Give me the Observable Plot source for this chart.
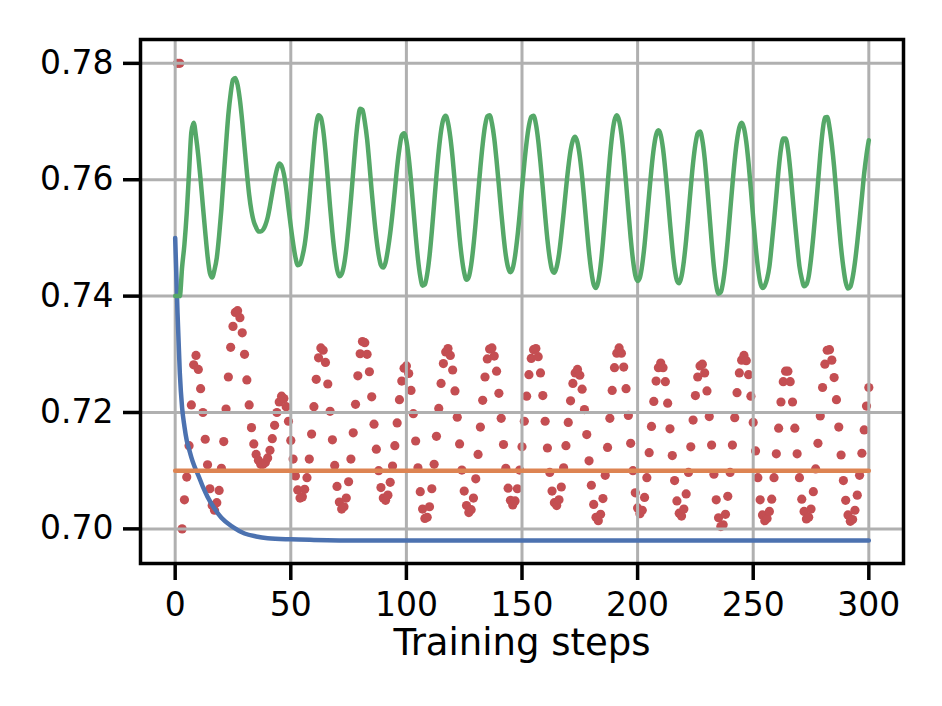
<!DOCTYPE html>
<html>
<head>
<meta charset="utf-8">
<script src="https://cdn.jsdelivr.net/npm/d3@7"></script>
<script src="https://cdn.jsdelivr.net/npm/@observablehq/plot@0.6"></script>
<style>
  html, body { margin: 0; padding: 0; background: #ffffff; }
  #chart svg { display: block; }
</style>
</head>
<body>
<div id="chart"></div>
<script>
// ---- tick labels / text ----
const xTicks = [0, 50, 100, 150, 200, 250, 300];
const yTicks = [0.70, 0.72, 0.74, 0.76, 0.78];
const xLabel = "Training steps";

// ---- red scatter: one value per training step, steps 1..300 ----
const redValues = [
  0.7800,0.7800,0.7000,0.7050,0.7089,0.7143,0.7213,0.7282,0.7298,0.7274,
  0.7241,0.7200,0.7154,0.7110,0.7069,0.7040,0.7032,0.7045,0.7066,0.7104,
  0.7150,0.7206,0.7261,0.7312,0.7348,0.7372,0.7375,0.7363,0.7337,0.7300,
  0.7256,0.7213,0.7174,0.7146,0.7128,0.7118,0.7111,0.7111,0.7114,0.7122,
  0.7135,0.7155,0.7178,0.7200,0.7218,0.7228,0.7224,0.7210,0.7185,0.7152,
  0.7120,0.7091,0.7067,0.7053,0.7055,0.7068,0.7088,0.7120,0.7163,0.7210,
  0.7257,0.7294,0.7311,0.7307,0.7286,0.7249,0.7202,0.7153,0.7109,0.7073,
  0.7046,0.7034,0.7038,0.7053,0.7081,0.7120,0.7165,0.7214,0.7263,0.7301,
  0.7322,0.7320,0.7300,0.7270,0.7227,0.7180,0.7137,0.7100,0.7071,0.7053,
  0.7049,0.7058,0.7080,0.7108,0.7143,0.7182,0.7222,0.7254,0.7276,0.7280,
  0.7267,0.7238,0.7198,0.7151,0.7105,0.7064,0.7034,0.7018,0.7020,0.7038,
  0.7069,0.7111,0.7159,0.7207,0.7250,0.7284,0.7304,0.7310,0.7298,0.7273,
  0.7237,0.7192,0.7146,0.7101,0.7065,0.7040,0.7028,0.7033,0.7053,0.7086,
  0.7128,0.7175,0.7221,0.7261,0.7292,0.7309,0.7311,0.7297,0.7271,0.7233,
  0.7190,0.7145,0.7104,0.7070,0.7049,0.7041,0.7048,0.7069,0.7101,0.7141,
  0.7185,0.7228,0.7265,0.7293,0.7308,0.7310,0.7296,0.7268,0.7229,0.7185,
  0.7139,0.7097,0.7065,0.7045,0.7040,0.7050,0.7072,0.7105,0.7143,0.7183,
  0.7220,0.7250,0.7268,0.7274,0.7264,0.7240,0.7205,0.7162,0.7117,0.7075,
  0.7042,0.7020,0.7014,0.7025,0.7052,0.7092,0.7140,0.7190,0.7238,0.7277,
  0.7302,0.7311,0.7302,0.7278,0.7241,0.7195,0.7147,0.7100,0.7062,0.7036,
  0.7026,0.7032,0.7054,0.7088,0.7131,0.7176,0.7219,0.7254,0.7277,0.7285,
  0.7277,0.7253,0.7216,0.7172,0.7126,0.7083,0.7048,0.7027,0.7022,0.7034,
  0.7060,0.7097,0.7141,0.7187,0.7229,0.7261,0.7280,0.7283,0.7268,0.7237,
  0.7193,0.7144,0.7094,0.7050,0.7019,0.7004,0.7007,0.7025,0.7056,0.7097,
  0.7144,0.7191,0.7234,0.7268,0.7290,0.7298,0.7289,0.7265,0.7228,0.7183,
  0.7134,0.7088,0.7050,0.7024,0.7014,0.7018,0.7030,0.7051,0.7088,0.7129,
  0.7173,0.7218,0.7253,0.7271,0.7271,0.7253,0.7218,0.7173,0.7129,0.7088,
  0.7051,0.7030,0.7017,0.7020,0.7034,0.7064,0.7103,0.7147,0.7194,0.7243,
  0.7283,0.7307,0.7308,0.7290,0.7260,0.7222,0.7175,0.7127,0.7083,0.7049,
  0.7024,0.7013,0.7016,0.7032,0.7058,0.7092,0.7130,0.7170,0.7211,0.7243
];

// ---- green line: one value per training step, steps 0..300 ----
const greenValues = [
  0.7400,0.7400,0.7400,0.7450,0.7489,0.7543,0.7613,0.7682,0.7698,0.7674,
  0.7641,0.7600,0.7554,0.7510,0.7469,0.7440,0.7432,0.7445,0.7466,0.7504,
  0.7550,0.7606,0.7661,0.7712,0.7748,0.7772,0.7775,0.7763,0.7737,0.7700,
  0.7656,0.7613,0.7574,0.7546,0.7528,0.7518,0.7511,0.7511,0.7514,0.7522,
  0.7535,0.7555,0.7578,0.7600,0.7618,0.7628,0.7624,0.7610,0.7585,0.7552,
  0.7520,0.7491,0.7467,0.7453,0.7455,0.7468,0.7488,0.7520,0.7563,0.7610,
  0.7657,0.7694,0.7711,0.7707,0.7686,0.7649,0.7602,0.7553,0.7509,0.7473,
  0.7446,0.7434,0.7438,0.7453,0.7481,0.7520,0.7565,0.7614,0.7663,0.7701,
  0.7722,0.7720,0.7700,0.7670,0.7627,0.7580,0.7537,0.7500,0.7471,0.7453,
  0.7449,0.7458,0.7480,0.7508,0.7543,0.7582,0.7622,0.7654,0.7676,0.7680,
  0.7667,0.7638,0.7598,0.7551,0.7505,0.7464,0.7434,0.7418,0.7420,0.7438,
  0.7469,0.7511,0.7559,0.7607,0.7650,0.7684,0.7704,0.7710,0.7698,0.7673,
  0.7637,0.7592,0.7546,0.7501,0.7465,0.7440,0.7428,0.7433,0.7453,0.7486,
  0.7528,0.7575,0.7621,0.7661,0.7692,0.7709,0.7711,0.7697,0.7671,0.7633,
  0.7590,0.7545,0.7504,0.7470,0.7449,0.7441,0.7448,0.7469,0.7501,0.7541,
  0.7585,0.7628,0.7665,0.7693,0.7708,0.7710,0.7696,0.7668,0.7629,0.7585,
  0.7539,0.7497,0.7465,0.7445,0.7440,0.7450,0.7472,0.7505,0.7543,0.7583,
  0.7620,0.7650,0.7668,0.7674,0.7664,0.7640,0.7605,0.7562,0.7517,0.7475,
  0.7442,0.7420,0.7414,0.7425,0.7452,0.7492,0.7540,0.7590,0.7638,0.7677,
  0.7702,0.7711,0.7702,0.7678,0.7641,0.7595,0.7547,0.7500,0.7462,0.7436,
  0.7426,0.7432,0.7454,0.7488,0.7531,0.7576,0.7619,0.7654,0.7677,0.7685,
  0.7677,0.7653,0.7616,0.7572,0.7526,0.7483,0.7448,0.7427,0.7422,0.7434,
  0.7460,0.7497,0.7541,0.7587,0.7629,0.7661,0.7680,0.7683,0.7668,0.7637,
  0.7593,0.7544,0.7494,0.7450,0.7419,0.7404,0.7407,0.7425,0.7456,0.7497,
  0.7544,0.7591,0.7634,0.7668,0.7690,0.7698,0.7689,0.7665,0.7628,0.7583,
  0.7534,0.7488,0.7450,0.7424,0.7414,0.7418,0.7430,0.7451,0.7488,0.7529,
  0.7573,0.7618,0.7653,0.7671,0.7671,0.7653,0.7618,0.7573,0.7529,0.7488,
  0.7451,0.7430,0.7417,0.7420,0.7434,0.7464,0.7503,0.7547,0.7594,0.7643,
  0.7683,0.7707,0.7708,0.7690,0.7660,0.7622,0.7575,0.7527,0.7483,0.7449,
  0.7424,0.7413,0.7416,0.7432,0.7458,0.7492,0.7530,0.7570,0.7611,0.7643,
  0.7668
];

// ---- blue decaying curve ----
const blueSteps  = [0, 1, 2, 3, 4, 5, 6, 7, 8, 9, 10, 12, 14, 17, 20, 25, 30, 35, 40, 50, 60, 80, 100, 150, 200, 250, 300];
const blueValues = [0.7500,0.7372,0.7268,0.7208,0.7176,0.7152,0.7137,0.7123,0.7111,0.7101,0.7092,0.7072,0.7055,0.7035,0.7019,0.7003,0.6992,0.6987,0.6984,0.6982,0.6981,0.6980,0.6980,0.6980,0.6980,0.6980,0.6980];

// ---- orange constant line ----
const orangeSteps  = [0, 300];
const orangeValues = [0.7100, 0.7100];

// ---- tables for the library ----
const red    = redValues.map((v, i) => ({step: i + 1, value: v}));
const green  = greenValues.map((v, i) => ({step: i, value: v}));
const blue   = blueSteps.map((s, i) => ({step: s, value: blueValues[i]}));
const orange = orangeSteps.map((s, i) => ({step: s, value: orangeValues[i]}));

const gridStyle = {stroke: "#b0b0b0", strokeOpacity: 1, strokeWidth: 3};

const chart = Plot.plot({
  width: 942,
  height: 706,
  marginLeft: 140,
  marginRight: 39,
  marginTop: 39,
  marginBottom: 143,
  x: {domain: [-15, 315]},
  y: {domain: [0.69405, 0.7841]},
  style: {fontFamily: "'DejaVu Sans', sans-serif", color: "black", background: "white", overflow: "visible"},
  marks: [
    Plot.dot(red, {x: "step", y: "value", r: 4.6, fill: "#c44e52", stroke: "none"}),
    Plot.gridX(xTicks, gridStyle),
    Plot.gridY(yTicks, gridStyle),
    Plot.line(blue,   {x: "step", y: "value", stroke: "#4c72b0", strokeWidth: 4.5, curve: "monotone-x"}),
    Plot.line(orange, {x: "step", y: "value", stroke: "#dd8452", strokeWidth: 4.5}),
    Plot.line(green,  {x: "step", y: "value", stroke: "#55a868", strokeWidth: 4.5, curve: "monotone-x"}),
    Plot.frame({stroke: "black", strokeWidth: 3.5}),
    Plot.axisX(xTicks, {tickSize: 17, tickPadding: 12, fontSize: 33, strokeWidth: 3.5, label: null, tickFormat: d => String(d)}),
    Plot.axisY(yTicks, {tickSize: 17, tickPadding: 10, fontSize: 33, strokeWidth: 3.5, label: null, tickFormat: d3.format(".2f")}),
    Plot.text([xLabel], {frameAnchor: "bottom", text: d => d, dy: 65, lineAnchor: "top", fontSize: 37, fill: "black"})
  ]
});

document.getElementById("chart").appendChild(chart);
</script>
</body>
</html>
